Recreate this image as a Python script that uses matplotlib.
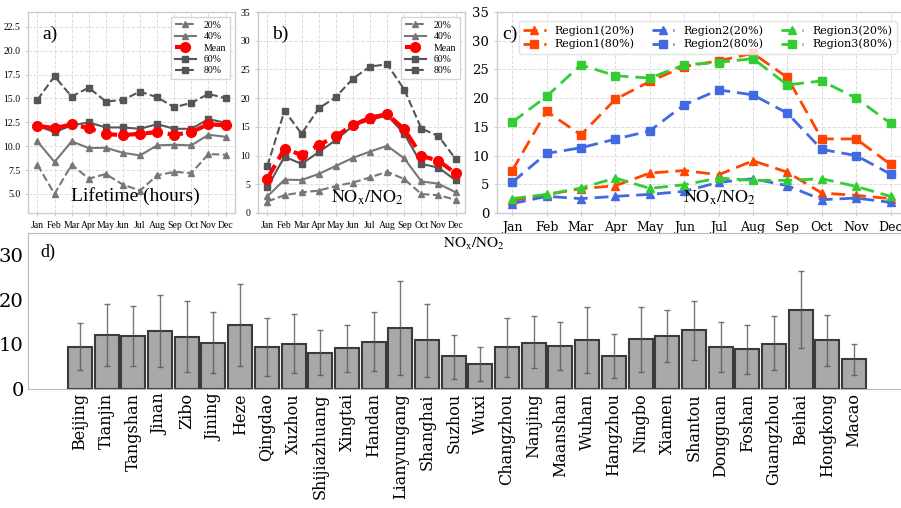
import numpy as np
import matplotlib
matplotlib.use('Agg')
from matplotlib import pyplot as plt

months = ['Jan', 'Feb', 'Mar', 'Apr', 'May', 'Jun', 'Jul', 'Aug', 'Sep', 'Oct', 'Nov', 'Dec']

# a) 寿命 (hours)
life_20 = [8.06, 5.0, 8.06, 6.6, 7.08, 5.97, 5.35, 6.95, 7.3, 7.19, 9.17, 9.1]
life_40 = [10.5, 8.34, 10.5, 9.8, 9.83, 9.3, 9.03, 10.08, 10.15, 10.08, 11.2, 10.98]
life_mean = [12.13, 11.89, 12.27, 11.89, 11.26, 11.16, 11.3, 11.47, 11.19, 11.47, 12.3, 12.17]
life_60 = [12.13, 11.47, 12.17, 12.48, 11.96, 11.96, 11.82, 12.3, 11.82, 11.82, 12.83, 12.45]
life_80 = [14.85, 17.32, 15.19, 16.13, 14.67, 14.85, 15.71, 15.12, 14.08, 14.53, 15.47, 15.02]

# b) NOx/NO2
ratio_20 = [2.0, 3.1, 3.6, 3.9, 4.7, 5.3, 6.2, 7.2, 5.9, 3.3, 3.1, 2.3]
ratio_40 = [2.9, 5.8, 5.75, 6.8, 8.2, 9.6, 10.7, 11.7, 9.5, 5.5, 5.1, 3.6]
ratio_mean = [6.0, 11.2, 10.1, 11.8, 13.4, 15.3, 16.6, 17.2, 14.6, 9.95, 9.1, 6.9]
ratio_60 = [4.5, 9.8, 8.55, 10.6, 12.7, 15.2, 16.2, 17.0, 13.8, 8.55, 7.9, 5.7]
ratio_80 = [8.2, 17.8, 13.8, 18.2, 20.2, 23.4, 25.5, 25.9, 21.5, 14.7, 13.4, 9.4]

# c) 分区域
reg1_20 = [2.14, 3.19, 4.23, 4.75, 6.95, 7.4, 6.66, 9.1, 7.1, 3.48, 3.07, 2.5]
reg1_80 = [7.36, 17.7, 13.6, 19.8, 22.9, 25.5, 26.5, 27.8, 23.6, 12.9, 12.9, 8.46]
reg2_20 = [1.62, 2.9, 2.5, 2.9, 3.24, 3.77, 5.33, 5.97, 4.75, 2.32, 2.6, 1.85]
reg2_80 = [5.33, 10.37, 11.36, 12.86, 14.3, 18.83, 21.44, 20.57, 17.38, 11.07, 10.0, 6.78]
reg3_20 = [2.5, 3.24, 4.35, 6.08, 4.29, 4.92, 6.08, 5.68, 5.68, 5.97, 4.63, 2.9]
reg3_80 = [15.8, 20.3, 25.8, 23.9, 23.5, 25.8, 26.2, 26.9, 22.3, 23.0, 20.0, 15.6]

# d) 城市
cities = ['Beijing', 'Tianjin', 'Tangshan', 'Jinan', 'Zibo', 'Jining', 'Heze', 'Qingdao',
          'Xuzhou', 'Shijiazhuang', 'Xingtai', 'Handan', 'Lianyungang', 'Shanghai', 'Suzhou',
          'Wuxi', 'Changzhou', 'Nanjing', 'Maanshan', 'Wuhan', 'Hangzhou', 'Ningbo', 'Xiamen',
          'Shantou', 'Dongguan', 'Foshan', 'Guangzhou', 'Beihai', 'Hongkong', 'Macao']
city_mean = [9.45, 12.1, 11.9, 13.1, 11.6, 10.4, 14.3, 9.45, 10.2, 8.1, 9.1, 10.5, 13.7, 11.0, 7.3,
             5.7, 9.4, 10.4, 9.75, 11.0, 7.4, 11.2, 11.9, 13.2, 9.45, 8.9, 10.2, 17.8, 11.0, 6.7]
city_low = [4.2, 5.1, 5.1, 4.9, 3.8, 3.5, 5.1, 2.9, 3.5, 3.1, 3.8, 4.0, 3.1, 2.8, 2.2,
            1.9, 2.6, 4.7, 4.2, 3.6, 2.4, 3.8, 6.0, 6.5, 3.8, 3.3, 4.2, 9.1, 5.1, 3.2]
city_high = [14.7, 19.0, 18.7, 21.2, 19.7, 17.2, 23.5, 15.9, 16.9, 13.2, 14.3, 17.2, 24.2, 19.0, 12.1,
             9.4, 16.0, 16.3, 15.1, 18.3, 12.4, 18.5, 17.7, 19.8, 15.0, 14.4, 16.3, 26.5, 16.7, 10.1]

plt.rcParams['mathtext.fontset'] = 'stix'
times = 'Liberation Serif'
ratio_label = r'$\mathrm{NO_x/NO_2}$'

fig = plt.figure(figsize=(9.01, 5.08), dpi=100)
W, H = 901, 508


def px_axes(left, top, right, bottom):
    return fig.add_axes([left / W, 1 - bottom / H, (right - left) / W, (bottom - top) / H])


def style_axes(ax, spine_color='#cccccc'):
    ax.set_facecolor('white')
    for s in ax.spines.values():
        s.set_color(spine_color)
        s.set_linewidth(1.0)
    ax.grid(True, linestyle='--', color='#dddddd', linewidth=0.7)
    ax.set_axisbelow(True)
    ax.tick_params(length=2, color='#cccccc')


def draw_quantiles(ax, q20, q40, qm, q60, q80):
    x = np.arange(len(months))
    ax.plot(x, q20, '--^', color='#777777', lw=1.5, ms=5, label='20%')
    ax.plot(x, q40, '-^', color='#777777', lw=1.5, ms=5, label='40%')
    ax.plot(x, qm, '--o', color='red', lw=3, ms=7, label='Mean', zorder=3)
    ax.plot(x, q60, '-s', color='#555555', lw=1.5, ms=5, label='60%')
    ax.plot(x, q80, '--s', color='#555555', lw=1.5, ms=5, label='80%')
    ax.set_xticks(x)
    ax.set_xticklabels(months, fontfamily=times, fontsize=7)
    for lab in ax.get_yticklabels():
        lab.set_fontfamily(times)
        lab.set_fontsize(7)
    ax.legend(loc='upper right', prop={'family': times, 'size': 7}, handlelength=2.2,
              borderpad=0.4, labelspacing=0.25, fancybox=False, edgecolor='#cccccc')


# a)
ax_a = px_axes(28, 12, 235, 213)
style_axes(ax_a)
ax_a.set_ylim(3, 24.05)
ax_a.set_yticks(np.arange(5, 23, 2.5))
draw_quantiles(ax_a, life_20, life_40, life_mean, life_60, life_80)
ax_a.text(0.07, 0.93, 'a)', transform=ax_a.transAxes, fontfamily=times, fontsize=14, va='top')
ax_a.text(0.52, 0.04, 'Lifetime (hours)', transform=ax_a.transAxes, fontfamily=times,
          fontsize=14, ha='center', va='bottom')

# b)
ax_b = px_axes(258, 12, 465, 213)
style_axes(ax_b)
ax_b.set_ylim(0, 35)
ax_b.set_yticks(np.arange(0, 36, 5))
draw_quantiles(ax_b, ratio_20, ratio_40, ratio_mean, ratio_60, ratio_80)
ax_b.text(0.07, 0.93, 'b)', transform=ax_b.transAxes, fontfamily=times, fontsize=14, va='top')
ax_b.text(0.53, 0.03, ratio_label, transform=ax_b.transAxes, fontsize=13,
          ha='center', va='bottom')

# c)
ax_c = px_axes(497, 12, 905, 213)
style_axes(ax_c)
x = np.arange(len(months))
c1, c2, c3 = '#ff4500', '#4169e1', '#32cd32'
ax_c.plot(x, reg1_20, '--^', color=c1, lw=2, ms=6, dashes=(5, 2.5), label='Region1(20%)')
ax_c.plot(x, reg1_80, '--s', color=c1, lw=2, ms=6, dashes=(5, 2.5), label='Region1(80%)')
ax_c.plot(x, reg2_20, '--^', color=c2, lw=2, ms=6, dashes=(5, 2.5), label='Region2(20%)')
ax_c.plot(x, reg2_80, '--s', color=c2, lw=2, ms=6, dashes=(5, 2.5), label='Region2(80%)')
ax_c.plot(x, reg3_20, '--^', color=c3, lw=2, ms=6, dashes=(5, 2.5), label='Region3(20%)')
ax_c.plot(x, reg3_80, '--s', color=c3, lw=2, ms=6, dashes=(5, 2.5), label='Region3(80%)')
ax_c.set_xlim(-0.44, 11.42)
ax_c.set_ylim(0, 35)
ax_c.set_yticks(np.arange(0, 36, 5))
ax_c.set_xticks(x)
ax_c.set_xticklabels(months, fontfamily='DejaVu Serif', fontsize=9)
for lab in ax_c.get_yticklabels():
    lab.set_fontfamily('DejaVu Serif')
    lab.set_fontsize(9.5)
ax_c.legend(loc='upper left', bbox_to_anchor=(0.04, 0.985), ncol=3,
            prop={'family': 'DejaVu Serif', 'size': 8}, handlelength=2.0,
            handletextpad=0.8, columnspacing=1.6, labelspacing=0.3, borderpad=0.4,
            fancybox=True, edgecolor='#dddddd')
ax_c.text(0.012, 0.93, 'c)', transform=ax_c.transAxes, fontfamily=times, fontsize=14, va='top')
ax_c.text(0.545, 0.03, ratio_label, transform=ax_c.transAxes, fontsize=13,
          ha='center', va='bottom')

# d)
ax_d = px_axes(28, 233, 905, 389)
ax_d.set_facecolor('white')
for s in ax_d.spines.values():
    s.set_color('#bbbbbb')
xc = np.arange(len(cities))
mean_arr = np.array(city_mean)
yerr = [mean_arr - np.array(city_low), np.array(city_high) - mean_arr]
ax_d.bar(xc, city_mean, width=0.9, color='#a9a9a9', edgecolor='#3a3a3a', linewidth=1.5,
         yerr=yerr, error_kw=dict(ecolor='#555555', elinewidth=1, capsize=2, alpha=0.8))
ax_d.set_xlim(-1.95, 30.91)
ax_d.set_ylim(0, 35)
ax_d.set_yticks([0, 10, 20, 30])
ax_d.set_xticks(xc)
ax_d.set_xticklabels(cities, rotation=90, fontfamily='DejaVu Serif', fontsize=11.5)
for lab in ax_d.get_yticklabels():
    lab.set_fontfamily('DejaVu Serif')
    lab.set_fontsize(14)
ax_d.tick_params(length=0, pad=3)
ax_d.text(0.014, 0.93, 'd)', transform=ax_d.transAxes, fontfamily=times, fontsize=13, va='top')
ax_d.text(0.508, 0.88, ratio_label, transform=ax_d.transAxes, fontsize=11,
          ha='center', va='bottom')

fig.savefig('out.png', dpi=100)
